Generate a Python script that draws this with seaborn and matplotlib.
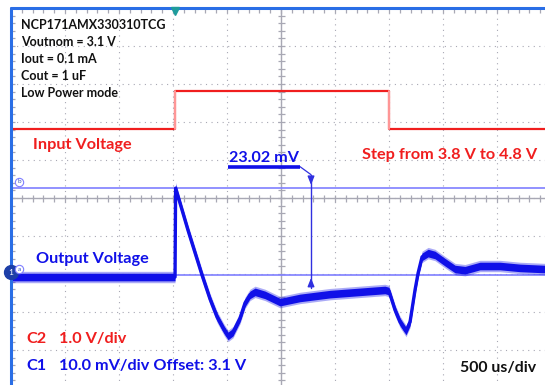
import numpy as np
import pandas as pd
import matplotlib
matplotlib.use("Agg")
import matplotlib.pyplot as plt
import seaborn as sns

# ---- scope settings ----
TIME_PER_DIV = 500.0      # us/div
X_START = -1519.0         # left screen edge, us relative to trigger
N_DIV = 10
C1_SCALE = 10.0           # mV/div (output, AC view around 3.1 V offset)
C1_POS = -2.08            # div, screen position of the pre-step output level
C2_SCALE = 1.0            # V/div (input)
C2_REF_V = 3.8
C2_POS = 1.82             # div, screen position of 3.8 V

# ---- C2: input voltage step 3.8 V -> 4.8 V -> 3.8 V ----
input_t = [X_START, 0, 0, 1985, 1985, X_START + N_DIV * TIME_PER_DIV]
input_v = [3.8, 3.8, 4.8, 4.8, 3.8, 3.8]

# ---- C1: output voltage deviation (mV) from the pre-step level ----
output_t = [X_START, -5, 0, 5, 120, 250, 324, 389, 454, 491, 537, 602, 648,
            694, 741, 833, 972, 1157, 1435, 1713, 1944, 1981, 2037, 2083,
            2139, 2176, 2222, 2250, 2287, 2343, 2407, 2500, 2593, 2685,
            2824, 3009, 3194, 3426, X_START + N_DIV * TIME_PER_DIV]
output_mv = [0.0, 0.0, 0.0, 23.4, 12.3, 0.5, -5.8, -10.5, -13.9, -15.5,
             -14.5, -10.8, -6.8, -4.7, -3.9, -4.7, -6.6, -5.5, -4.5, -3.9,
             -3.4, -3.7, -8.7, -11.8, -14.2, -11.8, -3.4, 1.0, 5.3, 6.3,
             5.8, 3.9, 2.1, 1.8, 2.9, 2.9, 2.4, 2.1, 2.1]
NOISE_MV = 1.0            # half height of the dense noise band
NOISE_EDGE_MV = 1.5       # half height of the sparse outer fringe

# ---- cursors ----
cursor_low_mv = 0.5
cursor_delta_mv = 23.02
cursor_high_mv = cursor_low_mv + cursor_delta_mv
cursor_t = 1259

RED = "#f01e1e"
BLUE = "#1010e8"
CURSOR = "#7f7fff"
GRID = "#a8a8b4"
BORDER = "#2a6ee6"


def c1_div(mv):
    return np.asarray(mv, dtype=float) / C1_SCALE + C1_POS


def c2_div(v):
    return (np.asarray(v, dtype=float) - C2_REF_V) / C2_SCALE + C2_POS


sns.set_style("white")
plt.rcParams["font.family"] = ["Lato", "DejaVu Sans"]

W, H = 545, 385
fig = plt.figure(figsize=(W / 100, H / 100), dpi=100)
fig.patch.set_facecolor("white")
# screen: 10 x 10 div, 54 px x 38 px per div, right/bottom edges cropped
ax = fig.add_axes([11 / W, (H - 388) / H, 540 / W, 380 / H])
x_end = X_START + N_DIV * TIME_PER_DIV
ax.set_xlim(X_START, x_end)
ax.set_ylim(-5, 5)
ax.set_axis_off()

px_x = TIME_PER_DIV / 54.0   # us per pixel
px_y = 1 / 38.0              # div per pixel

# dotted graticule
xmaj = X_START + TIME_PER_DIV * np.arange(1, N_DIV)
ymaj = np.arange(-4, 5)
for x in xmaj:
    ax.axvline(x, color=GRID, lw=0.8, ls=(0, (1, 4)), zorder=1)
for y in ymaj:
    ax.axhline(y, color=GRID, lw=0.8, ls=(0, (1, 4)), zorder=1)

# center axes with minor ticks
xc = X_START + 5 * TIME_PER_DIV
ax.axvline(xc, color=GRID, lw=1.0, zorder=1)
ax.axhline(0, color=GRID, lw=1.0, zorder=1)
xminor = X_START + 100 * np.arange(1, 50)
yminor = np.arange(-4.8, 5.0, 0.2)
ax.vlines(xminor, -3.5 * px_y, 3.5 * px_y, color=GRID, lw=0.9, zorder=1)
ax.hlines(yminor, xc - 3.5 * px_x, xc + 3.5 * px_x, color=GRID, lw=0.9, zorder=1)
# edge ticks
ax.vlines(xminor, 5 - 5 * px_y, 5, color=GRID, lw=0.9, zorder=1)
ax.hlines(yminor, X_START, X_START + 4 * px_x, color=GRID, lw=0.9, zorder=1)

# screen border (top and left)
ax.plot([X_START, x_end], [5, 5], color=BORDER, lw=2.2, clip_on=False, zorder=6)
ax.plot([X_START, X_START], [-5, 5], color=BORDER, lw=2.2, clip_on=False, zorder=6)

# trigger marker
ax.plot([0], [5 - 3 * px_y], marker="v", ms=6, color="#1f9c9c", mec="#1f9c9c",
        clip_on=False, zorder=7)

# C2 input trace
df_in = pd.DataFrame({"t": input_t, "y": c2_div(input_v)})
sns.lineplot(data=df_in, x="t", y="y", ax=ax, color=RED, lw=1.6, sort=False,
             estimator=None, zorder=4)
for t_edge in (0, 1985):
    ax.plot([t_edge, t_edge], c2_div([3.8, 4.8]), color="#ff9a9a", lw=1.4, zorder=4)

# cursors
ax.axhline(c1_div(cursor_high_mv), color=CURSOR, lw=1.2, zorder=3)
ax.axhline(c1_div(cursor_low_mv), color=CURSOR, lw=1.2, zorder=3)

# C1 output trace: noise fringe, dense band and core
df_out = pd.DataFrame({"t": output_t, "y": c1_div(output_mv)})
ax.fill_between(df_out["t"], df_out["y"] - NOISE_EDGE_MV / C1_SCALE,
                df_out["y"] + NOISE_EDGE_MV / C1_SCALE, color=BLUE, alpha=0.35,
                lw=0, zorder=5)
ax.fill_between(df_out["t"], df_out["y"] - NOISE_MV / C1_SCALE,
                df_out["y"] + NOISE_MV / C1_SCALE, color=BLUE, lw=0, zorder=5)
sns.lineplot(data=df_out, x="t", y="y", ax=ax, color=BLUE, lw=2.4, sort=False,
             estimator=None, zorder=5)
ax.plot([0, 0], c1_div([0, 23.4]), color="#9a9aff", lw=1.2, zorder=4)

# delta cursor marker
y_hi = float(c1_div(cursor_high_mv))
y_lo = float(c1_div(cursor_low_mv))
ax.plot([cursor_t, cursor_t], [y_hi + 13 * px_y, y_lo - 13 * px_y],
        color="#3030e0", lw=1.0, zorder=6)
arrow = dict(arrowstyle="-|>,head_length=0.5,head_width=0.2", color="#3030e0", lw=1.0)
ax.annotate("", xy=(cursor_t, y_hi), xytext=(cursor_t, y_hi + 12 * px_y),
            arrowprops=arrow, zorder=6)
ax.annotate("", xy=(cursor_t, y_lo), xytext=(cursor_t, y_lo - 12 * px_y),
            arrowprops=arrow, zorder=6)
# leader and underline for the delta readout
ax.plot([cursor_t - 11 * px_x, cursor_t], [y_hi + 21 * px_y, y_hi + 13 * px_y],
        color="#3030e0", lw=0.9, zorder=6)
ax.plot([cursor_t - 83 * px_x, cursor_t - 11 * px_x],
        [y_hi + 21 * px_y] * 2, color=BLUE, lw=2.6, solid_capstyle="butt", zorder=6)
ax.text(cursor_t - 47 * px_x, y_hi + 23 * px_y, f"{cursor_delta_mv:.2f} mV",
        color=BLUE, fontsize=11.6, fontweight="bold", ha="center", va="bottom",
        zorder=6)

# channel / cursor markers on the left edge
ax.plot([X_START], [C1_POS + 5 * px_y], marker="o", ms=10, color="#1d3fa8",
        clip_on=False, zorder=8)
ax.text(X_START, C1_POS + 5 * px_y, "1", color="white", fontsize=6,
        ha="center", va="center", zorder=9, clip_on=False)
for lab, yv in (("b", y_hi + 6 * px_y), ("a", y_lo + 6 * px_y)):
    ax.plot([X_START + 8 * px_x], [yv], marker="o", ms=6, mfc="white",
            mec=CURSOR, mew=0.8, zorder=8)
    ax.text(X_START + 8 * px_x, yv, lab, color="#3050c0", fontsize=4.5,
            ha="center", va="center", zorder=9)


def ftext(x, y, s, **kw):
    fig.text(x / W, 1 - y / H, s, va="center", ha="left", fontweight="bold", **kw)


info = ["NCP171AMX330310TCG", "Voutnom = 3.1 V", "Iout = 0.1 mA",
        "Cout = 1 uF", "Low Power mode"]
for i, line in enumerate(info):
    ftext(21, 25 + 17 * i, line, color="#111111", fontsize=9.0)

ftext(33, 145, "Input Voltage", color=RED, fontsize=11.7)
ftext(362, 155, "Step from 3.8 V to 4.8 V", color=RED, fontsize=11.7)
ftext(36, 259, "Output Voltage", color=BLUE, fontsize=11.7)
ftext(26, 339, "C2", color=RED, fontsize=11.7)
ftext(59, 339, "1.0 V/div", color=RED, fontsize=11.7)
ftext(26, 366, "C1", color=BLUE, fontsize=11.7)
ftext(59, 366, "10.0 mV/div Offset: 3.1 V", color=BLUE, fontsize=11.7)
ftext(460, 368, "500 us/div", color="#111111", fontsize=11.4)

fig.savefig("out.png", dpi=100, facecolor="white")
